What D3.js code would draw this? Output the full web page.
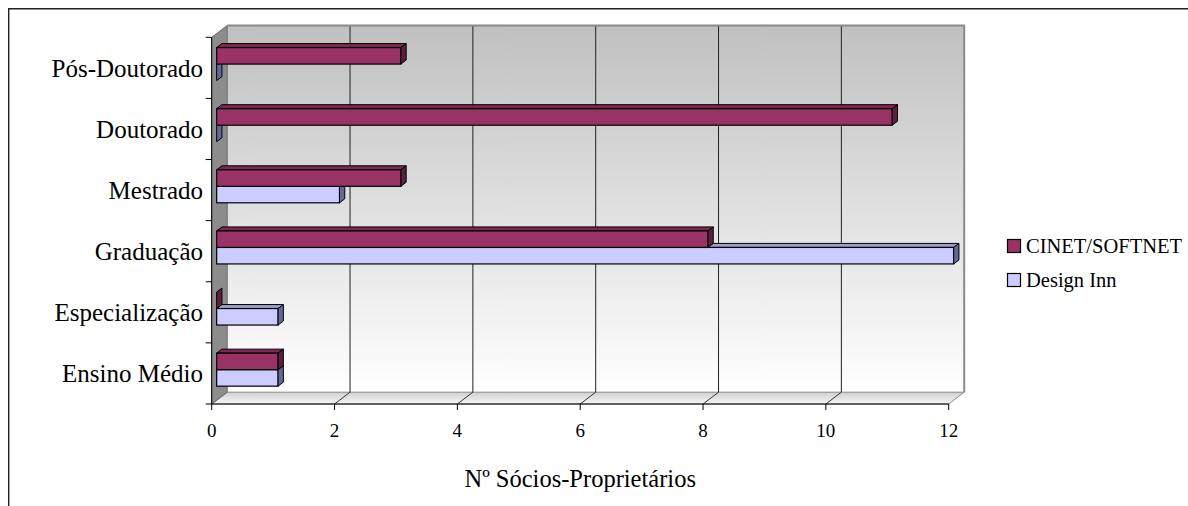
<!DOCTYPE html>
<html>
<head>
<meta charset="utf-8">
<script src="https://cdn.jsdelivr.net/npm/d3@7"></script>
<style>
  html, body { margin: 0; padding: 0; background: #fff; }
  svg { display: block; }
  text { font-family: "Liberation Serif", "Times New Roman", serif; fill: #000; }
</style>
</head>
<body>
<svg id="chart" width="1188" height="506"></svg>
<script>
// Escolaridade dos sócios-proprietários por empresa
const categories = ["Ensino Médio", "Especialização", "Graduação", "Mestrado", "Doutorado", "Pós-Doutorado"];
const cinetSoftnet = [1, 0, 8, 3, 11, 3];
const designInn = [1, 1, 12, 2, 0, 0];
const seriesNames = ["CINET/SOFTNET", "Design Inn"];
const xTicks = [0, 2, 4, 6, 8, 10, 12];
const axisTitle = "Nº Sócios-Proprietários";

const series = [
  { name: seriesNames[0], values: cinetSoftnet, front: "#993366", top: "#7a2952", side: "#5c1f3d" },
  { name: seriesNames[1], values: designInn,    front: "#ccccff", top: "#9c9cd0", side: "#666699" }
];

const svg = d3.select("#chart");

// Plot geometry (front plane) and 3D depth offset
const front = { left: 211.7, right: 948.7, top: 37.3, bottom: 404 };
const depth = { dx: 15.5, dy: 11.8 };
const barZ0 = 0.32, barZ1 = 0.66;   // bar position within depth

const x = d3.scaleLinear().domain([0, 12]).range([front.left, front.right]);
const y = d3.scaleBand().domain(categories).range([front.bottom, front.top]).paddingInner(0.46).paddingOuter(0.23);
const yBand = d3.scaleBand().domain(categories).range([front.bottom, front.top]);
const ySeries = d3.scaleBand().domain(seriesNames).range([0, y.bandwidth()]);

const proj = (px, py, z) => [px + z * depth.dx, py - z * depth.dy];
const poly = pts => pts.map(p => p.join(",")).join(" ");

// Outer frame
svg.append("path")
  .attr("d", "M8.7,506 L8.7,8.7 L1188,8.7")
  .attr("fill", "none").attr("stroke", "#222").attr("stroke-width", 1.4);

// Gradients
const defs = svg.append("defs");
const wallGrad = defs.append("linearGradient").attr("id", "wallGrad")
  .attr("x1", 0).attr("y1", 0).attr("x2", 0).attr("y2", 1);
wallGrad.append("stop").attr("offset", "0%").attr("stop-color", "#c0c0c0");
wallGrad.append("stop").attr("offset", "100%").attr("stop-color", "#ffffff");
const floorGrad = defs.append("linearGradient").attr("id", "floorGrad")
  .attr("x1", 0).attr("y1", 0).attr("x2", 0).attr("y2", 1);
floorGrad.append("stop").attr("offset", "0%").attr("stop-color", "#d0d0d0");
floorGrad.append("stop").attr("offset", "100%").attr("stop-color", "#f6f6f6");

const backL = proj(front.left, front.bottom, 1);
const backTop = proj(front.left, front.top, 1)[1];
const backR = proj(front.right, front.bottom, 1);

// Back wall
svg.append("rect")
  .attr("x", backL[0]).attr("y", backTop)
  .attr("width", backR[0] - backL[0]).attr("height", backL[1] - backTop)
  .attr("fill", "url(#wallGrad)");

// Floor
svg.append("polygon")
  .attr("points", poly([[front.left, front.bottom], [front.right, front.bottom], backR, backL]))
  .attr("fill", "url(#floorGrad)")
  .attr("stroke", "#8a8a8a").attr("stroke-width", 1);

// Left side wall
svg.append("polygon")
  .attr("points", poly([[front.left, front.top], proj(front.left, front.top, 1), backL, [front.left, front.bottom]]))
  .attr("fill", "#8c8c8c")
  .attr("stroke", "#6a6a6a").attr("stroke-width", 1);

// Vertical gridlines on the back wall
svg.append("g").selectAll("line")
  .data(xTicks.filter(t => t > 0 && t < 12))
  .join("line")
  .attr("x1", d => x(d) + depth.dx).attr("x2", d => x(d) + depth.dx)
  .attr("y1", backTop).attr("y2", backL[1])
  .attr("stroke", "#222").attr("stroke-width", 1);

// Back wall border (top and right)
svg.append("path")
  .attr("d", `M${backL[0]},${backTop} L${backR[0]},${backTop} L${backR[0]},${backR[1]}`)
  .attr("fill", "none").attr("stroke", "#8a8a8a").attr("stroke-width", 2);

// Floor diagonals at each tick
svg.append("g").selectAll("line")
  .data(xTicks.filter(t => t > 0 && t < 12))
  .join("line")
  .attr("x1", d => x(d)).attr("y1", front.bottom)
  .attr("x2", d => x(d) + depth.dx).attr("y2", front.bottom - depth.dy)
  .attr("stroke", "#333").attr("stroke-width", 1);

// Bars (drawn as 3D boxes)
function drawBar(g, s, i) {
  const v = s.values[i];
  const y0 = y(categories[i]) + ySeries(s.name);
  const y1 = y0 + ySeries.bandwidth();
  const xa = x(0), xb = x(v);
  const fTL = proj(xa, y0, barZ0), fTR = proj(xb, y0, barZ0);
  const fBR = proj(xb, y1, barZ0);
  const bTL = proj(xa, y0, barZ1), bTR = proj(xb, y0, barZ1), bBR = proj(xb, y1, barZ1);
  const stroke = "#000";
  if (v > 0) {
    g.append("polygon").attr("points", poly([fTL, fTR, bTR, bTL]))
      .attr("fill", s.top).attr("stroke", stroke).attr("stroke-width", 1).attr("stroke-linejoin", "round");
    g.append("rect").attr("x", fTL[0]).attr("y", fTL[1])
      .attr("width", fTR[0] - fTL[0]).attr("height", fBR[1] - fTR[1])
      .attr("fill", s.front).attr("stroke", stroke).attr("stroke-width", 1.2);
  }
  g.append("polygon").attr("points", poly([fTR, bTR, bBR, fBR]))
    .attr("fill", s.side).attr("stroke", stroke).attr("stroke-width", 1).attr("stroke-linejoin", "round");
}

const barsG = svg.append("g");
[series[1], series[0]].forEach(s => {
  categories.forEach((c, i) => drawBar(barsG, s, i));
});

// Category axis (left edge with ticks)
const axisG = svg.append("g");
axisG.append("line")
  .attr("x1", front.left).attr("x2", front.left)
  .attr("y1", front.top).attr("y2", front.bottom)
  .attr("stroke", "#000").attr("stroke-width", 1);
const bandEdges = categories.map(c => yBand(c)).concat([front.bottom]);
axisG.selectAll("line.ytick").data(bandEdges).join("line").attr("class", "ytick")
  .attr("x1", front.left - 6).attr("x2", front.left)
  .attr("y1", d => d).attr("y2", d => d)
  .attr("stroke", "#000").attr("stroke-width", 1);
axisG.selectAll("text.ylab").data(categories).join("text").attr("class", "ylab")
  .attr("x", 203)
  .attr("y", d => yBand(d) + yBand.bandwidth() / 2 + 9)
  .attr("text-anchor", "end")
  .attr("font-size", 25)
  .text(d => d);

// Value axis (front bottom edge)
axisG.append("line")
  .attr("x1", front.left).attr("x2", front.right)
  .attr("y1", front.bottom).attr("y2", front.bottom)
  .attr("stroke", "#000").attr("stroke-width", 1.2);
axisG.selectAll("line.xtick").data(xTicks).join("line").attr("class", "xtick")
  .attr("x1", d => x(d)).attr("x2", d => x(d))
  .attr("y1", front.bottom).attr("y2", front.bottom + 6)
  .attr("stroke", "#000").attr("stroke-width", 1);
axisG.selectAll("text.xlab").data(xTicks).join("text").attr("class", "xlab")
  .attr("x", d => x(d))
  .attr("y", 436.7)
  .attr("text-anchor", "middle")
  .attr("font-size", 19)
  .text(d => d);

svg.append("text")
  .attr("x", (front.left + front.right) / 2)
  .attr("y", 487.3)
  .attr("text-anchor", "middle")
  .attr("font-size", 24.5)
  .text(axisTitle);

// Legend
const legend = svg.append("g");
series.forEach((s, i) => {
  const cy = 246 + i * 34;
  legend.append("rect")
    .attr("x", 1007.5).attr("y", cy - 6.5)
    .attr("width", 13).attr("height", 13)
    .attr("fill", s.front).attr("stroke", "#000").attr("stroke-width", 1.2);
  legend.append("text")
    .attr("x", 1026).attr("y", cy + 6.5)
    .attr("font-size", 20.5)
    .text(s.name);
});
</script>
</body>
</html>
